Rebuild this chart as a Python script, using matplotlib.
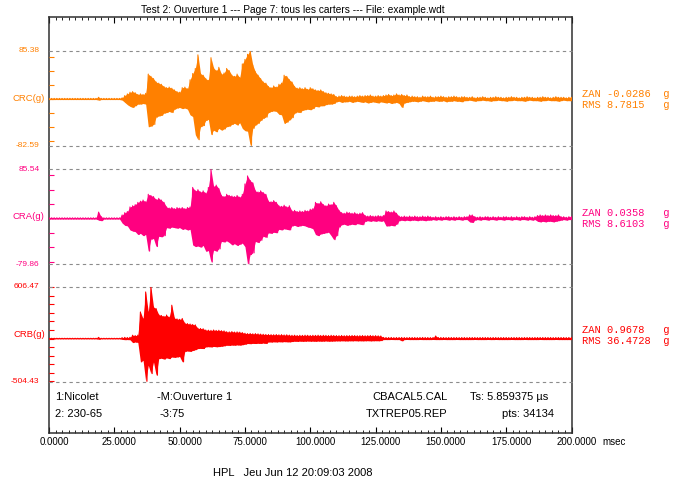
import numpy as np
import matplotlib
matplotlib.use("Agg")
import matplotlib.pyplot as plt
from matplotlib.ticker import MultipleLocator, NullLocator, NullFormatter

plt.rcParams['font.family'] = ['Liberation Sans', 'DejaVu Sans']

# sample grid of the envelopes (one peak / trough pair per msec)
t_ms = np.arange(0, 201)

# CRC(g) : peaks and troughs read per msec
crc_hi = [1, 1, 1, 1, 1, 1, 1, 1, 1, 1,
          1, 1, 1, 1, 1, 1, 1, 1, 1, 3,
          1, 1, 1, 1, 1, 1, 1, 1, 2, 6,
          9, 12, 13, 11, 8, 9, 8, 10, 44, 40,
          36, 30, 28, 26, 22, 20, 21, 19, 16, 13,
          12, 20, 21, 18, 34, 45, 54, 78, 45, 42,
          36, 33, 73, 55, 50, 56, 44, 46, 54, 50,
          42, 40, 44, 38, 62, 70, 79, 85, 60, 48,
          42, 36, 30, 28, 22, 20, 23, 21, 26, 28,
          42, 40, 34, 30, 22, 19, 20, 18, 20, 17,
          20, 18, 16, 15, 16, 13, 11, 10, 9, 8,
          4, 5, 6, 5, 4, 5, 5, 4, 5, 6,
          5, 6, 6, 7, 5, 5, 6, 5, 6, 7,
          8, 6, 7, 9, 7, 8, 6, 7, 4, 5,
          4, 4, 3, 5, 4, 4, 5, 3, 4, 4,
          5, 4, 3, 4, 4, 5, 4, 3, 4, 4,
          3, 3, 4, 2, 3, 3, 4, 3, 2, 3,
          3, 4, 3, 3, 2, 3, 3, 4, 3, 3,
          2, 3, 3, 4, 3, 3, 2, 3, 3, 4,
          3, 3, 2, 3, 4, 3, 3, 3, 2, 3,
          3]
crc_lo = [-1, -1, -1, -1, -1, -1, -1, -1, -1, -1,
          -1, -1, -1, -1, -1, -1, -1, -1, -1, -2,
          -1, -1, -1, -1, -1, -1, -1, -1, -2, -6,
          -10, -13, -15, -12, -9, -9, -8, -9, -49, -48,
          -45, -32, -30, -29, -25, -24, -22, -24, -18, -16,
          -15, -17, -16, -18, -28, -31, -63, -72, -49, -47,
          -38, -36, -63, -55, -58, -52, -55, -53, -49, -48,
          -45, -43, -46, -42, -52, -56, -57, -82, -52, -46,
          -43, -38, -34, -32, -24, -22, -21, -22, -27, -28,
          -43, -41, -37, -33, -25, -23, -24, -20, -19, -18,
          -19, -17, -13, -14, -12, -12, -10, -9, -9, -8,
          -5, -4, -6, -5, -5, -4, -6, -5, -4, -5,
          -6, -5, -7, -6, -5, -6, -7, -5, -6, -7,
          -6, -8, -7, -6, -8, -15, -7, -6, -5, -4,
          -4, -5, -4, -3, -4, -5, -4, -4, -3, -4,
          -4, -3, -5, -4, -4, -3, -4, -4, -5, -3,
          -3, -2, -3, -4, -3, -3, -2, -3, -3, -4,
          -3, -3, -2, -3, -3, -4, -3, -3, -2, -3,
          -3, -3, -4, -3, -2, -3, -3, -3, -4, -3,
          -3, -2, -3, -3, -3, -4, -3, -2, -3, -3,
          -3]

# CRA(g)
cra_hi = [1, 1, 1, 1, 1, 1, 1, 1, 1, 1,
          1, 1, 1, 1, 1, 1, 1, 1, 1, 11,
          3, 1, 1, 1, 1, 1, 1, 1, 6, 10,
          12, 20, 22, 24, 28, 30, 32, 29, 42, 40,
          38, 33, 35, 32, 28, 20, 18, 19, 17, 19,
          18, 19, 17, 19, 20, 54, 48, 50, 46, 48,
          44, 54, 85, 56, 58, 52, 40, 38, 42, 40,
          39, 38, 40, 37, 42, 60, 74, 66, 62, 48,
          46, 48, 45, 42, 30, 29, 31, 28, 22, 21,
          23, 20, 22, 13, 14, 12, 13, 12, 14, 13,
          16, 17, 28, 26, 29, 24, 22, 25, 24, 28,
          22, 14, 10, 9, 11, 10, 9, 10, 8, 9,
          10, 5, 4, 5, 4, 4, 5, 4, 5, 13,
          12, 11, 13, 9, 4, 3, 4, 3, 4, 3,
          4, 3, 3, 4, 3, 4, 3, 2, 3, 2,
          3, 2, 3, 3, 2, 3, 2, 3, 2, 3,
          3, 6, 6, 3, 2, 3, 2, 3, 3, 2,
          3, 2, 3, 2, 3, 3, 2, 3, 2, 3,
          2, 3, 3, 2, 3, 2, 3, 5, 6, 5,
          6, 5, 6, 5, 5, 6, 3, 3, 2, 3,
          3]
cra_lo = [-1, -1, -1, -1, -1, -1, -1, -1, -1, -1,
          -1, -1, -1, -1, -1, -1, -1, -1, -1, -3,
          -4, -1, -1, -1, -1, -1, -1, -1, -8, -12,
          -13, -20, -22, -23, -28, -26, -30, -28, -57, -36,
          -35, -49, -31, -32, -30, -16, -17, -15, -16, -17,
          -16, -19, -18, -20, -19, -46, -49, -48, -50, -47,
          -57, -56, -76, -55, -57, -53, -40, -41, -39, -42,
          -46, -44, -47, -45, -43, -49, -80, -63, -60, -40,
          -42, -38, -31, -33, -25, -26, -24, -25, -19, -20,
          -18, -19, -20, -13, -12, -14, -13, -12, -13, -15,
          -16, -18, -28, -30, -27, -26, -25, -24, -30, -37,
          -30, -15, -11, -10, -12, -11, -10, -11, -9, -10,
          -11, -5, -4, -5, -4, -5, -4, -5, -4, -13,
          -13, -12, -13, -10, -4, -3, -4, -3, -4, -3,
          -3, -4, -3, -3, -4, -3, -3, -2, -3, -2,
          -3, -2, -2, -3, -2, -3, -2, -2, -3, -2,
          -2, -6, -7, -3, -2, -3, -2, -2, -3, -2,
          -2, -3, -2, -2, -3, -2, -2, -3, -2, -2,
          -3, -2, -2, -3, -2, -3, -2, -5, -6, -5,
          -6, -5, -5, -6, -5, -4, -3, -2, -3, -2,
          -2]

# CRB(g)
crb_hi = [3, 3, 3, 3, 3, 3, 3, 3, 3, 3,
          3, 3, 3, 3, 3, 3, 3, 3, 3, 14,
          3, 3, 3, 3, 3, 3, 3, 3, 10, 14,
          12, 15, 39, 35, 40, 311, 233, 545, 311, 607,
          370, 350, 280, 270, 260, 275, 250, 390, 240, 230,
          225, 235, 180, 175, 170, 165, 160, 120, 118, 115,
          100, 98, 96, 100, 95, 97, 92, 90, 80, 78,
          82, 76, 78, 75, 70, 62, 58, 60, 56, 58,
          55, 52, 50, 48, 47, 46, 45, 47, 44, 46,
          42, 44, 40, 38, 39, 36, 38, 37, 39, 38,
          36, 38, 37, 39, 36, 38, 37, 35, 38, 36,
          35, 34, 36, 33, 35, 34, 36, 35, 33, 34,
          35, 33, 34, 36, 33, 34, 32, 30, 14, 12,
          12, 13, 11, 12, 12, 13, 12, 11, 12, 12,
          12, 11, 12, 13, 12, 12, 11, 12, 30, 12,
          12, 12, 11, 12, 12, 12, 12, 11, 12, 12,
          11, 12, 12, 12, 11, 12, 12, 12, 12, 11,
          12, 12, 11, 12, 12, 12, 11, 12, 12, 12,
          12, 11, 12, 12, 12, 11, 12, 12, 12, 12,
          12, 12, 12, 11, 12, 12, 12, 12, 11, 12,
          12]
crb_lo = [-3, -3, -3, -3, -3, -3, -3, -3, -3, -3,
          -3, -3, -3, -3, -3, -3, -3, -3, -3, -8,
          -3, -3, -3, -3, -3, -3, -3, -3, -10, -13,
          -12, -14, -47, -40, -45, -273, -254, -500, -312, -410,
          -273, -429, -235, -230, -240, -225, -235, -215, -220, -215,
          -210, -273, -150, -145, -150, -140, -130, -117, -115, -117,
          -97, -95, -98, -92, -96, -94, -90, -85, -78, -80,
          -76, -78, -74, -77, -72, -66, -58, -60, -56, -58,
          -55, -57, -52, -58, -39, -41, -38, -40, -37, -39,
          -36, -38, -39, -35, -31, -33, -30, -32, -31, -29,
          -31, -30, -32, -29, -31, -30, -28, -31, -30, -29,
          -27, -28, -26, -27, -28, -26, -27, -25, -27, -26,
          -27, -26, -25, -27, -26, -25, -26, -24, -12, -12,
          -12, -11, -12, -12, -12, -27, -12, -11, -12, -12,
          -12, -12, -11, -12, -12, -12, -12, -11, -12, -12,
          -12, -11, -12, -12, -12, -12, -11, -12, -12, -12,
          -12, -12, -12, -11, -12, -12, -12, -12, -11, -12,
          -12, -11, -12, -12, -12, -12, -12, -11, -12, -12,
          -12, -12, -11, -12, -12, -12, -12, -12, -11, -12,
          -12, -12, -12, -12, -11, -12, -12, -12, -12, -12,
          -12]

channels = ["CRC(g)", "CRA(g)", "CRB(g)"]
colors = ["#ff8000", "#ff0080", "#ff0000"]
y_max = [85.38, 85.54, 606.47]
y_min = [-82.59, -79.86, -504.43]
y_step = [25, 25, 100]
zan = ["-0.0286", "0.0358", "0.9678"]
rms = ["8.7815", "8.6103", "36.4728"]
highs = [crc_hi, cra_hi, crb_hi]
lows = [crc_lo, cra_lo, crb_lo]

x_ticks = [0, 25, 50, 75, 100, 125, 150, 175, 200]
x_labels = ["%.4f" % v for v in x_ticks]

W, H = 675, 484
fig = plt.figure(figsize=(6.75, 4.84), dpi=100)

# main frame (pixel box 49..571.5 x 17..433)
L, R, T, B = 49, 571.5, 17, 433
ax = fig.add_axes([L / W, 1 - B / H, (R - L) / W, (B - T) / H])
ax.set_xlim(0, 200)
ax.set_ylim(0, 1)
ax.yaxis.set_major_locator(NullLocator())
ax.xaxis.set_major_locator(MultipleLocator(25))
ax.xaxis.set_minor_locator(MultipleLocator(2.5))
ax.xaxis.set_major_formatter(NullFormatter())
ax.tick_params(axis='x', which='both', direction='in', top=True, bottom=True, color='black')
ax.tick_params(axis='x', which='major', length=4.3, width=0.8)
ax.tick_params(axis='x', which='minor', length=2.2, width=0.6)
for s in ax.spines.values():
    s.set_color('#303030')
    s.set_linewidth(1.1)

for v, lbl in zip(x_ticks, x_labels):
    ax.annotate(lbl, xy=(v, 0), xycoords=('data', 'axes fraction'), xytext=(3.6, -6.8),
                textcoords='offset points', ha='center', va='center', fontsize=7)
ax.annotate("msec", xy=(200, 0), xycoords=('data', 'axes fraction'), xytext=(22, -6.8),
            textcoords='offset points', ha='left', va='center', fontsize=7)

# info block inside the frame
def fx(px):
    return (px - L) / (R - L)

def fy(py):
    return (B - py) / (B - T)

info = [("1:Nicolet", 55, 396.7), ("2: 230-65", 55, 414),
        ("-M:Ouverture 1", 157, 396.7), ("-3:75", 160, 414),
        ("CBACAL5.CAL", 372, 396.7), ("TXTREP05.REP", 366, 414),
        (u"Ts: 5.859375 \u00b5s", 470, 396.7), ("pts: 34134", 502, 414)]
for txt, px, py in info:
    ax.text(fx(px), fy(py), txt, transform=ax.transAxes, ha='left', va='center', fontsize=8)

# one transparent axes per channel
band_tops = [50.7, 169.3, 286.7]
band_h = 95
for i in range(3):
    top = band_tops[i]
    sub = fig.add_axes([L / W, 1 - (top + band_h) / H, (R - L) / W, band_h / H])
    sub.set_facecolor('none')
    for s in sub.spines.values():
        s.set_visible(False)
    sub.set_xlim(0, 200)
    sub.set_ylim(y_min[i], y_max[i])
    sub.set_xticks([])
    sub.yaxis.set_major_locator(NullLocator())
    sub.yaxis.set_minor_locator(MultipleLocator(y_step[i]))
    sub.tick_params(axis='y', which='minor', direction='in', length=3.6, width=0.8,
                    color=colors[i])

    c = colors[i]
    for yv in (y_max[i], y_min[i]):
        sub.axhline(yv, color='#8c8c8c', lw=0.8, dashes=(3, 3), clip_on=False)
        sub.annotate("%.2f" % yv, xy=(0, yv), xycoords=('axes fraction', 'data'),
                     xytext=(-6.8, 0), textcoords='offset points', ha='right', va='center',
                     fontsize=6, color=c)
    sub.annotate(channels[i], xy=(0, 0.5), xycoords='axes fraction', xytext=(-3, 0),
                 textcoords='offset points', ha='right', va='center', fontsize=6.8, color=c)

    hi = np.array(highs[i], dtype=float)
    lo = np.array(lows[i], dtype=float)
    # solid body between the envelopes, then the peak/trough trace on top
    sub.fill_between(t_ms, lo, hi, color=c, lw=0)
    xs = np.empty(2 * len(t_ms))
    ys = np.empty(2 * len(t_ms))
    xs[0::2] = t_ms
    xs[1::2] = t_ms + 0.5
    ys[0::2] = hi
    ys[1::2] = lo
    sub.plot(xs, ys, color=c, lw=0.8)

    zan_txt = ("ZAN " + zan[i]).ljust(13) + "g"
    rms_txt = ("RMS " + rms[i]).ljust(13) + "g"
    sub.annotate(zan_txt, xy=(1, 0.5), xycoords='axes fraction', xytext=(7.5, 3),
                 textcoords='offset points', ha='left', va='center', fontsize=7.5,
                 color=c, family='Liberation Mono')
    sub.annotate(rms_txt, xy=(1, 0.5), xycoords='axes fraction', xytext=(7.5, -5),
                 textcoords='offset points', ha='left', va='center', fontsize=7.5,
                 color=c, family='Liberation Mono')

fig.text(293 / W, 1 - 10 / H, "Test 2: Ouverture 1 --- Page 7: tous les carters --- File: example.wdt",
         ha='center', va='center', fontsize=7.3)
fig.text(213 / W, 1 - 473 / H, "HPL   Jeu Jun 12 20:09:03 2008", ha='left', va='center', fontsize=8)

fig.savefig("out.png", dpi=100)
